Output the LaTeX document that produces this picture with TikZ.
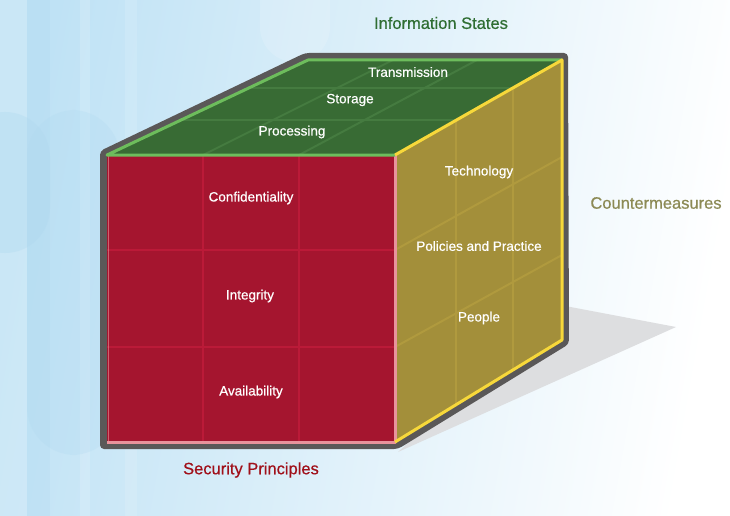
\documentclass[tikz,border=0pt]{standalone}
\usepackage{fontspec}
\setmainfont{Liberation Sans}
\newfontfamily\cubefont[FakeBold=0.6]{Liberation Sans}
\definecolor{bgblue}{HTML}{BFE2F5}
\definecolor{bgdeep}{HTML}{AFD9F0}
\definecolor{cubeedge}{HTML}{5A5858}
\definecolor{shadowgray}{HTML}{DDDEE0}
\definecolor{frontred}{HTML}{A5152F}
\definecolor{frontgrid}{HTML}{BB1A38}
\definecolor{frontedge}{HTML}{E8939C}
\definecolor{topgreen}{HTML}{386B34}
\definecolor{topgrid}{HTML}{457B40}
\definecolor{edgegreen}{HTML}{6DBD5C}
\definecolor{sidegold}{HTML}{A38F3A}
\definecolor{sidegrid}{HTML}{B09A3E}
\definecolor{edgeyellow}{HTML}{F7D83A}
\definecolor{titlegreen}{HTML}{2F6E33}
\definecolor{titleolive}{HTML}{8C8A55}
\definecolor{titlered}{HTML}{A0101A}
\tikzset{
  cellgrid/.style={line width=2pt},
  faceedge/.style={line width=3pt, line join=round}
}
\begin{document}
\begin{tikzpicture}[x=1pt,y=-1pt]
  \useasboundingbox (0,0) rectangle (730,516);
  \shade[left color=bgblue, right color=white, shading angle=80] (0,0) rectangle (730,516);
  \fill[white, opacity=0.18] (0,0) rectangle (27,516);
  \fill[bgdeep, opacity=0.25] (27,0) rectangle (50,516);
  \fill[white, opacity=0.15] (80,0) rectangle (90,516);
  \fill[white, opacity=0.12] (125,0) rectangle (137,516);
  \fill[bgdeep, opacity=0.35, rounded corners=45pt] (-40,112) rectangle (50,253);
  \fill[bgdeep, opacity=0.25, rounded corners=48pt] (27,110) rectangle (120,455);
  \fill[white, opacity=0.15, rounded corners=35pt] (260,-40) rectangle (330,62);

  \coordinate (ftl) at (107,155);
  \coordinate (ftr) at (395,155);
  \coordinate (fbr) at (395,442);
  \coordinate (fbl) at (107,442);
  \coordinate (btl) at (308,60);
  \coordinate (btr) at (562,60);
  \coordinate (bbr) at (562,340);

  \fill[shadowgray] (560,305) -- (676,327) -- (398,452) -- cycle;
  \fill[cubeedge, rounded corners=4pt] (100,151) -- (305,53) -- (568,53) -- (569,344) -- (398,449) -- (100,449) -- cycle;

  \fill[frontred] (ftl) rectangle (fbr);
  \fill[topgreen] (ftl) -- (btl) -- (btr) -- (ftr) -- cycle;
  \fill[sidegold] (ftr) -- (btr) -- (bbr) -- (fbr) -- cycle;

  \foreach \x in {203,299}
    \draw[frontgrid, cellgrid] (\x,155) -- (\x,442);
  \foreach \y in {250,347}
    \draw[frontgrid, cellgrid] (107,\y) -- (395,\y);
  \draw[topgrid, cellgrid] (181,120) -- (456,120);
  \draw[topgrid, cellgrid] (249,88) -- (513,88);
  \draw[topgrid, cellgrid] (203,155) -- (393,60);
  \draw[topgrid, cellgrid] (299,155) -- (477,60);
  \draw[sidegrid, cellgrid] (456,121) -- (456,405);
  \draw[sidegrid, cellgrid] (513,89) -- (513,370);
  \draw[sidegrid, cellgrid] (395,250) -- (562,157);
  \draw[sidegrid, cellgrid] (395,347) -- (562,255);

  \draw[frontedge, faceedge] (ftr) -- (fbr) -- (fbl);
  \draw[frontedge, line width=1pt, opacity=0.6] (108,155) -- (108,442);
  \draw[edgegreen, faceedge] (ftr) -- (ftl) -- (btl) -- (btr);
  \draw[edgeyellow, faceedge] (ftr) -- (btr) -- (bbr) -- (fbr);

  \begin{scope}[every node/.style={text=white, font=\cubefont\fontsize{13.5}{16}\selectfont}]
    \node (trans) at (408,72) {Transmission};
    \node (store) at (350,100) {Storage};
    \node (proc) at (292,132) {Processing};
    \node (conf) at (251,198) {Confidentiality};
    \node (integ) at (250,296) {Integrity};
    \node (avail) at (251,392) {Availability};
    \node (tech) at (479,172) {Technology};
    \node (policy) at (479,246) {Policies and Practice};
    \node (people) at (479,318) {People};
  \end{scope}
  \begin{scope}[every node/.style={font=\cubefont\fontsize{16.5}{20}\selectfont}]
    \node[text=titlegreen] (states) at (441,23) {Information States};
    \node[text=titleolive] (counter) at (656,203) {Countermeasures};
    \node[text=titlered] (principles) at (251,470) {Security Principles};
  \end{scope}
\end{tikzpicture}
\end{document}
